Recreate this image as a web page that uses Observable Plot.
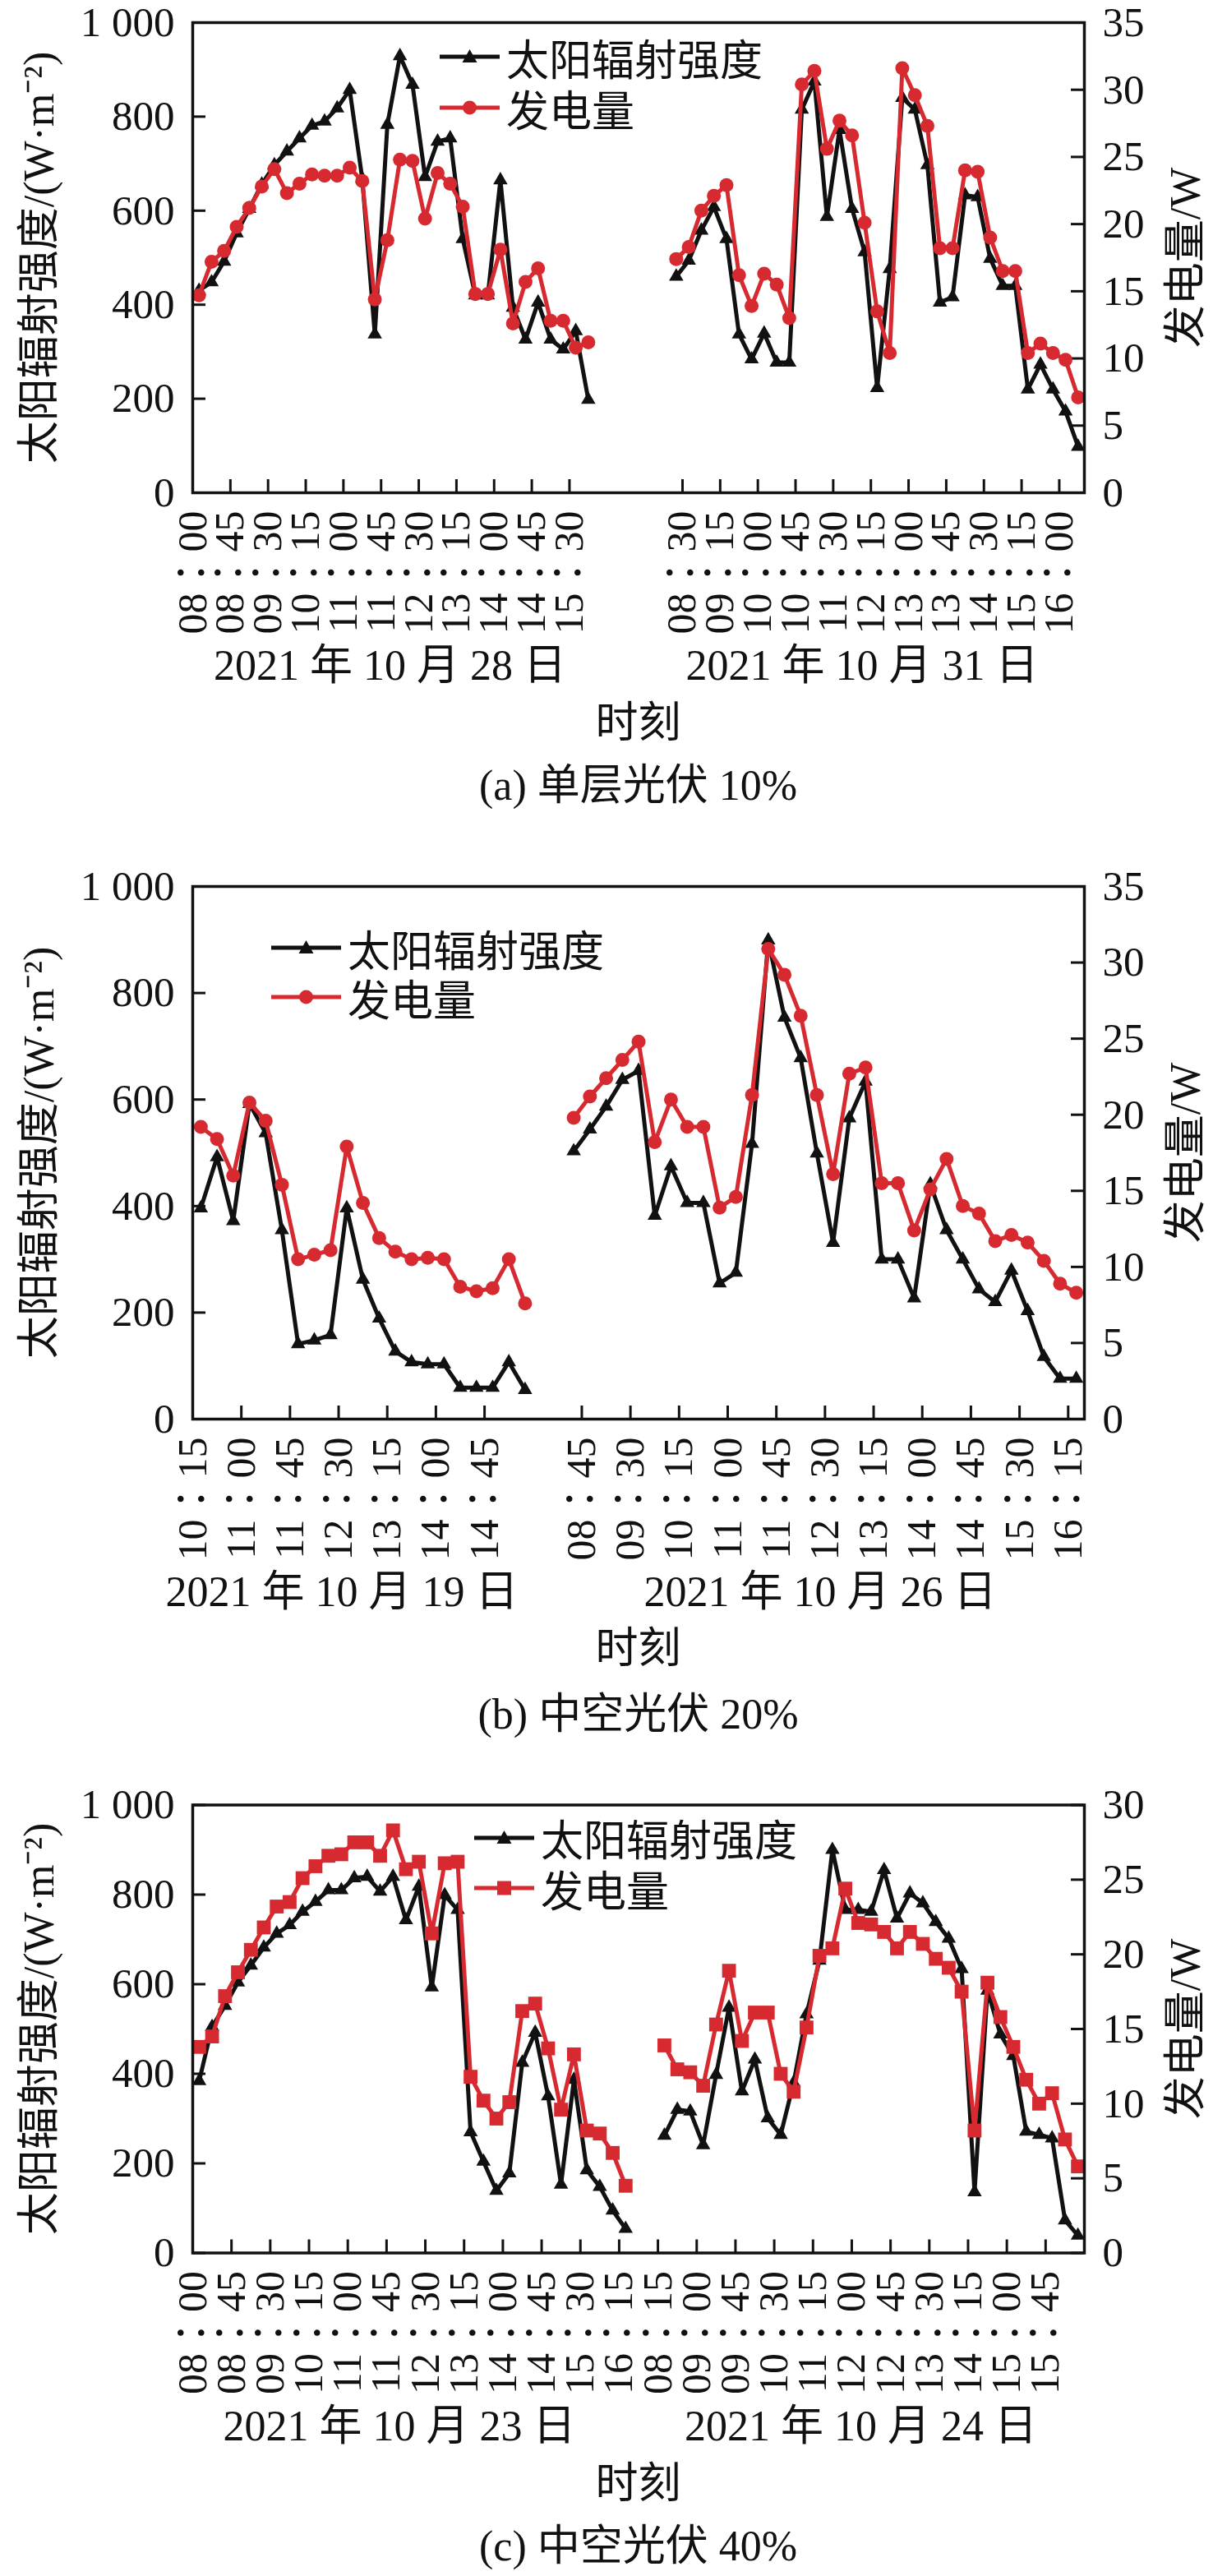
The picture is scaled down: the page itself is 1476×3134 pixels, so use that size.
<!DOCTYPE html>
<html>
<head>
<meta charset="utf-8">
<script src="https://cdn.jsdelivr.net/npm/d3@7"></script>
<script src="https://cdn.jsdelivr.net/npm/@observablehq/plot@0.6"></script>
<style>
  html, body { margin: 0; padding: 0; background: #fff; }
  #page { position: relative; width: 1476px; height: 3134px; background: #fff;
          font-family: "Liberation Serif", "Noto Sans CJK SC", serif; color: #111; }
  .ctext { position: absolute; left: 234px; width: 1085px; text-align: center; font-size: 52px; height: 70px; line-height: 70px; white-space: nowrap; }
  .leg { position: absolute; font-size: 52px; white-space: nowrap; display: flex; align-items: center; height: 60px; }
  .leg svg { display: block; margin-right: 8px; }
</style>
</head>
<body>
<div id="page"></div>
<script>
// ---------------- data ----------------
// (a) 单层光伏 10%
const a_day1_date = "2021 年 10 月 28 日";
const a_day2_date = "2021 年 10 月 31 日";
const a_day1_ticks = ["08:00","08:45","09:30","10:15","11:00","11:45","12:30","13:15","14:00","14:45","15:30"];
const a_day2_ticks = ["08:30","09:15","10:00","10:45","11:30","12:15","13:00","13:45","14:30","15:15","16:00"];
const a_day1_irr = [430,448,492,552,604,656,697,726,754,781,790,818,857,668,337,783,929,868,672,747,754,540,420,420,665,394,326,405,326,305,344,198];
const a_day1_pow = [14.7,17.2,18.0,19.8,21.2,22.8,24.1,22.3,23.0,23.7,23.6,23.6,24.2,23.2,14.4,18.8,24.8,24.7,20.4,23.8,23.0,21.3,14.8,14.8,18.1,12.6,15.7,16.7,12.8,12.8,10.8,11.2];
const a_day2_irr = [460,494,558,608,540,337,284,339,277,277,815,875,587,772,604,512,223,476,840,815,697,405,416,633,629,498,440,440,220,273,220,173,98];
const a_day2_pow = [17.4,18.3,21.0,22.1,22.9,16.2,13.9,16.3,15.5,13.0,30.4,31.4,25.6,27.7,26.6,20.1,13.5,10.4,31.6,29.6,27.3,18.2,18.2,24.0,23.9,19.0,16.5,16.5,10.4,11.1,10.4,9.9,7.1];

// (b) 中空光伏 20%
const b_day1_date = "2021 年 10 月 19 日";
const b_day2_date = "2021 年 10 月 26 日";
const b_day1_ticks = ["10:15","11:00","11:45","12:30","13:15","14:00","14:45"];
const b_day2_ticks = ["08:45","09:30","10:15","11:00","11:45","12:30","13:15","14:00","14:45","15:30","16:15"];
const b_day1_irr = [396,492,372,592,537,355,141,148,158,396,262,189,127,107,103,103,59,59,59,107,55];
const b_day1_pow = [19.2,18.4,16.0,20.8,19.6,15.4,10.5,10.8,11.1,17.9,14.2,11.9,11.0,10.5,10.6,10.5,8.7,8.4,8.6,10.5,7.6];
const b_day2_irr = [503,544,587,637,654,382,475,406,406,255,275,517,899,754,678,499,331,565,634,300,300,227,441,355,300,244,220,279,203,117,76,76];
const b_day2_pow = [19.8,21.2,22.4,23.6,24.8,18.2,21.0,19.2,19.2,13.9,14.6,21.3,30.9,29.2,26.5,21.3,16.1,22.7,23.1,15.5,15.5,12.4,15.1,17.1,14.0,13.5,11.7,12.1,11.6,10.4,8.9,8.3];

// (c) 中空光伏 40%
const c_day1_date = "2021 年 10 月 23 日";
const c_day2_date = "2021 年 10 月 24 日";
const c_day1_ticks = ["08:00","08:45","09:30","10:15","11:00","11:45","12:30","13:15","14:00","14:45","15:30","16:15"];
const c_day2_ticks = ["08:15","09:00","09:45","10:30","11:15","12:00","12:45","13:30","14:15","15:00","15:45"];
const c_day1_irr = [384,505,552,604,642,682,713,732,762,784,810,810,837,840,807,840,743,818,593,799,766,270,204,139,178,425,492,350,153,387,185,148,95,54];
const c_day1_pow = [13.8,14.5,17.2,18.8,20.3,21.8,23.2,23.5,25.1,25.9,26.6,26.7,27.5,27.5,26.6,28.3,25.7,26.2,21.4,26.1,26.2,11.8,10.2,9.0,10.1,16.2,16.7,13.7,9.6,13.3,8.2,8.0,6.7,4.5];
const c_day2_irr = [262,320,316,241,398,548,361,432,301,264,380,533,653,900,766,766,762,855,747,803,781,739,702,634,136,586,488,440,271,264,256,73,39];
const c_day2_pow = [13.9,12.3,12.1,11.2,15.3,18.9,14.2,16.1,16.1,12.0,10.8,15.1,19.9,20.4,24.4,22.1,22.0,21.5,20.4,21.5,20.7,19.7,19.1,17.5,8.2,18.1,15.8,13.8,11.6,10.0,10.7,7.6,5.8];

const irrTicks = [0, 200, 400, 600, 800, 1000];
const seriesNames = ["太阳辐射强度", "发电量"];
const leftTitle = "太阳辐射强度/(W·m⁻²)";
const rightTitle = "发电量/W";
const xTitle = "时刻";
const captions = ["(a) 单层光伏 10%", "(b) 中空光伏 20%", "(c) 中空光伏 40%"];

// ---------------- layout ----------------
const BLACK = "#111", RED = "#d62a30";
const FONT = '"Liberation Serif","Noto Sans CJK SC",serif';
const TICKFONT = '"Liberation Serif","Noto Sans CJK TC",serif';
const W = 1476, ML = 234, MR = 157;

const panels = [
  { top: 0, height: 845, mt: 27, mb: 246, xdomain: [-0.5, 70.5], pmax: 35, pstep: 5, redSymbol: "circle", redR: 8.5,
    days: [
      {start: 0, tickStart: -0.5, irr: a_day1_irr, pow: a_day1_pow, labels: a_day1_ticks, date: a_day1_date, dateX: 15.2},
      {start: 38, tickStart: 38.5, irr: a_day2_irr, pow: a_day2_pow, labels: a_day2_ticks, date: a_day2_date, dateX: 52.8}
    ],
    legend: {left: 535, line: 73, row1: 69, row2: 131}, xt: 880, cap: 956, caption: captions[0] },
  { top: 997, height: 974, mt: 81, mb: 245, xdomain: [-0.5, 54.5], pmax: 35, pstep: 5, redSymbol: "circle", redR: 8.5,
    days: [
      {start: 0, tickStart: -0.5, irr: b_day1_irr, pow: b_day1_pow, labels: b_day1_ticks, date: b_day1_date, dateX: 8.7},
      {start: 23, tickStart: 23.5, irr: b_day2_irr, pow: b_day2_pow, labels: b_day2_ticks, date: b_day2_date, dateX: 38.2}
    ],
    legend: {left: 330, line: 85, row1: 156, row2: 216}, xt: 2006, cap: 2086, caption: captions[1] },
  { top: 2131, height: 854, mt: 64.5, mb: 244.5, xdomain: [-0.5, 68.5], pmax: 30, pstep: 5, redSymbol: "square", redR: 9.5,
    days: [
      {start: 0, tickStart: -0.5, irr: c_day1_irr, pow: c_day1_pow, labels: c_day1_ticks, date: c_day1_date, dateX: 15.5},
      {start: 36, tickStart: 35.5, irr: c_day2_irr, pow: c_day2_pow, labels: c_day2_ticks, date: c_day2_date, dateX: 51.2}
    ],
    legend: {left: 577, line: 73, row1: 104.5, row2: 166}, xt: 3022, cap: 3098, caption: captions[2] }
];

const page = document.getElementById("page");

function buildPanel(cfg) {
  const rows = [];
  cfg.days.forEach((day, k) => day.irr.forEach((v, i) =>
    rows.push({g: day.start + i, irr: v, pow: day.pow[i], day: k})));
  const kp = 1000 / cfg.pmax;
  const ticks = [], labelOf = new Map();
  cfg.days.forEach(day => day.labels.forEach((t, i) => {
    const g = day.tickStart + 3 * i; ticks.push(g); labelOf.set(g, t.replace(":", "："));
  }));
  const [x0, x1] = cfg.xdomain;
  const plotW = W - ML - MR, plotH = cfg.height - cfg.mt - cfg.mb;
  const tx = 16 / plotW * (x1 - x0), ty = 16 / plotH * 1000;
  const pTicks = d3.range(0, cfg.pmax + 0.001, cfg.pstep).map(p => p * kp);

  const svg = Plot.plot({
    width: W, height: cfg.height,
    marginLeft: ML, marginRight: MR, marginTop: cfg.mt, marginBottom: cfg.mb,
    style: {fontFamily: FONT, fontSize: "51px", color: BLACK, background: "white", overflow: "visible"},
    x: {domain: cfg.xdomain},
    y: {domain: [0, 1000]},
    marks: [
      Plot.axisY({anchor: "left", ticks: irrTicks, tickSize: 0, tickPadding: 22, fontSize: 51,
        tickFormat: d => d === 1000 ? "1 000" : String(d), label: null}),
      Plot.axisY({anchor: "right", ticks: pTicks, tickSize: 0, tickPadding: 22, fontSize: 51,
        tickFormat: d => String(Math.round(d / kp)), label: null}),
      Plot.axisX({anchor: "bottom", ticks, tickSize: 0, tickPadding: 22, tickRotate: -90, fontSize: 50,
        fontFamily: TICKFONT, tickFormat: d => labelOf.get(d), label: null}),
      Plot.ruleX(ticks, {y1: 0, y2: ty, stroke: BLACK, strokeWidth: 3}),
      Plot.ruleY(irrTicks, {x1: x0, x2: x0 + tx, stroke: BLACK, strokeWidth: 3}),
      Plot.ruleY(pTicks, {x1: x1 - tx, x2: x1, stroke: BLACK, strokeWidth: 3}),
      Plot.line(rows, {x: "g", y: "irr", z: "day", stroke: BLACK, strokeWidth: 5}),
      Plot.dot(rows, {x: "g", y: "irr", symbol: "triangle", r: 6.5, fill: BLACK}),
      Plot.line(rows, {x: "g", y: d => d.pow * kp, z: "day", stroke: RED, strokeWidth: 5}),
      Plot.dot(rows, {x: "g", y: d => d.pow * kp, symbol: cfg.redSymbol, r: cfg.redR, fill: RED}),
      Plot.frame({stroke: BLACK, strokeWidth: 3.5}),
      Plot.text(cfg.days, {x: "dateX", text: "date", frameAnchor: "bottom", lineAnchor: "middle", dy: 211, fontSize: 52, fill: BLACK}),
      Plot.text([leftTitle], {frameAnchor: "left", textAnchor: "middle", lineAnchor: "middle", rotate: -90, dx: -186, text: d => d, fontSize: 52, fill: BLACK}),
      Plot.text([rightTitle], {frameAnchor: "right", textAnchor: "middle", lineAnchor: "middle", rotate: -90, dx: 124, text: d => d, fontSize: 52, fill: BLACK})
    ]
  });
  svg.style.position = "absolute";
  svg.style.left = "0px";
  svg.style.top = cfg.top + "px";
  page.appendChild(svg);

  // legend
  const L = cfg.legend;
  const sw = (isRed) => {
    const h = 24, cy = h / 2, cx = L.line / 2;
    let mk;
    if (!isRed) mk = `<polygon points="${cx},${cy - 9} ${cx - 9},${cy + 7} ${cx + 9},${cy + 7}" fill="${BLACK}"/>`;
    else if (cfg.redSymbol === "square") mk = `<rect x="${cx - 8.5}" y="${cy - 8.5}" width="17" height="17" fill="${RED}"/>`;
    else mk = `<circle cx="${cx}" cy="${cy}" r="8.5" fill="${RED}"/>`;
    return `<svg width="${L.line}" height="${h}"><line x1="0" x2="${L.line}" y1="${cy}" y2="${cy}" stroke="${isRed ? RED : BLACK}" stroke-width="5"/>${mk}</svg>`;
  };
  [[L.row1, false, seriesNames[0]], [L.row2, true, seriesNames[1]]].forEach(([y, red, name]) => {
    const d = document.createElement("div");
    d.className = "leg";
    d.style.left = L.left + "px";
    d.style.top = (cfg.top + y - 30) + "px";
    d.innerHTML = sw(red) + `<span>${name}</span>`;
    page.appendChild(d);
  });

  // x title and caption
  const xt = document.createElement("div");
  xt.className = "ctext"; xt.style.top = (cfg.xt - 35) + "px"; xt.textContent = xTitle;
  page.appendChild(xt);
  const cp = document.createElement("div");
  cp.className = "ctext"; cp.style.top = (cfg.cap - 35) + "px"; cp.textContent = cfg.caption;
  page.appendChild(cp);
}

panels.forEach(buildPanel);
</script>
</body>
</html>
